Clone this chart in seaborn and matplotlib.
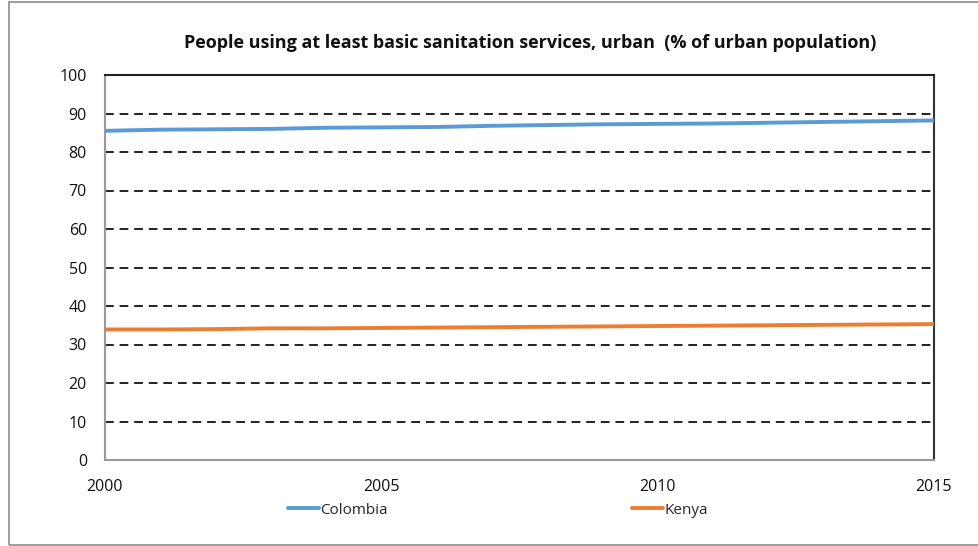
import matplotlib
matplotlib.use("Agg")
import matplotlib.pyplot as plt
import seaborn as sns
import pandas as pd
from matplotlib.patches import Rectangle
from matplotlib.lines import Line2D

years = list(range(2000, 2016))
colombia = [85.5, 85.8, 85.9, 86.0, 86.3, 86.4, 86.5, 86.8, 87.0, 87.2, 87.3, 87.4, 87.6, 87.8, 88.0, 88.2]
kenya = [33.9, 33.9, 34.0, 34.2, 34.2, 34.3, 34.4, 34.5, 34.6, 34.7, 34.8, 34.9, 35.0, 35.1, 35.2, 35.3]
countries = ["Colombia", "Kenya"]
colors = ["#5B9BD5", "#ED7D31"]
y_ticks = list(range(0, 101, 10))
x_ticks = [2000, 2005, 2010, 2015]
title = "People using at least basic sanitation services, urban  (% of urban population)"

df = pd.DataFrame({
    "Year": years * 2,
    "Value": colombia + kenya,
    "Country": [countries[0]] * len(years) + [countries[1]] * len(years),
})

sns.set_theme(style="white")
plt.rcParams["font.family"] = ["Open Sans", "DejaVu Sans"]

fig = plt.figure(figsize=(9.79, 5.46), dpi=100)
ax = fig.add_axes([105 / 979, 1 - 460 / 546, (934 - 105) / 979, (460 - 75) / 546])

# outer chart border
fig.patches.append(Rectangle((9 / 979, 1 / 546), 1.2, 1 - 3 / 546, transform=fig.transFigure,
                             fill=False, edgecolor="#8c8c8c", linewidth=1.2))

for v in y_ticks[1:-1]:
    ax.axhline(v, color="#222222", linestyle=(0, (4.5, 3)), linewidth=1.4, zorder=1)

sns.lineplot(data=df, x="Year", y="Value", hue="Country", palette=colors,
             linewidth=2.8, ax=ax, legend=False, zorder=3)

ax.set_xlim(2000, 2015)
ax.set_ylim(0, 100)
ax.set_xticks(years)
ax.set_xticklabels([str(y) if y in x_ticks else "" for y in years])
ax.set_yticks(y_ticks)
ax.set_xlabel("")
ax.set_ylabel("")
ax.tick_params(axis="both", which="major", length=5, width=1, color="#999999",
               labelsize=11.5, labelcolor="#111111", direction="out")
ax.tick_params(axis="x", pad=9)
ax.tick_params(axis="y", pad=8)
ax.spines["left"].set_color("#999999")
ax.spines["bottom"].set_color("#999999")
ax.spines["top"].set_color("#222222")
ax.spines["right"].set_color("#333333")
for s in ax.spines.values():
    s.set_linewidth(1.5)
    s.set_visible(True)

fig.text(530 / 979, 1 - 43 / 546, title, ha="center", va="center",
         fontsize=13, fontweight="bold", color="#111111")

handles = [Line2D([0], [0], color=c, linewidth=2.8) for c in colors]
leg = fig.legend(handles, countries, loc="center", bbox_to_anchor=(498 / 979, 1 - 510 / 546),
                 ncol=2, frameon=False, fontsize=11, handlelength=2.0, handletextpad=0.1,
                 columnspacing=16)

fig.savefig("out.png", dpi=100)
